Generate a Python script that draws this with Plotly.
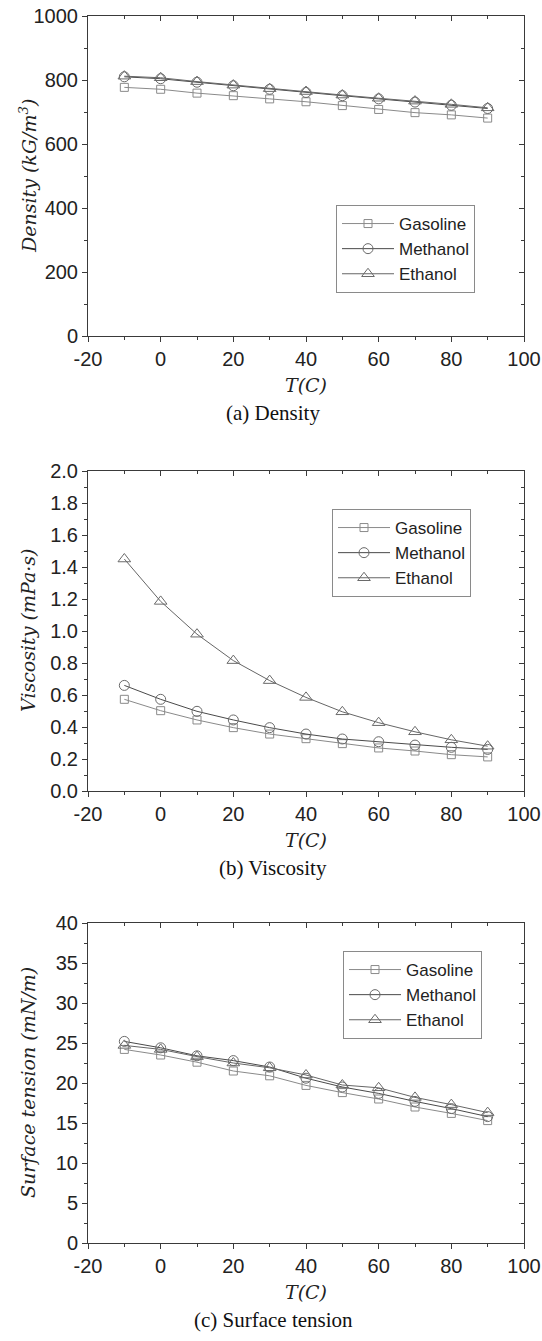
import plotly.graph_objects as go

# ---------------- data ----------------
temperature = [-10, 0, 10, 20, 30, 40, 50, 60, 70, 80, 90]
series_names = ["Gasoline", "Methanol", "Ethanol"]

density_gasoline = [777, 771, 759, 751, 741, 732, 720, 708, 698, 691, 681]
density_methanol = [810, 804, 793, 782, 771, 761, 751, 741, 731, 721, 711]
density_ethanol = [812, 807, 795, 784, 773, 764, 753, 743, 734, 724, 713]

viscosity_gasoline = [0.573, 0.502, 0.444, 0.396, 0.356, 0.327, 0.296, 0.269, 0.250, 0.227, 0.213]
viscosity_methanol = [0.660, 0.573, 0.498, 0.444, 0.396, 0.356, 0.325, 0.308, 0.287, 0.273, 0.260]
viscosity_ethanol = [1.450, 1.185, 0.980, 0.815, 0.690, 0.585, 0.495, 0.427, 0.370, 0.320, 0.280]

tension_gasoline = [24.2, 23.5, 22.6, 21.5, 20.9, 19.7, 18.8, 18.0, 17.0, 16.2, 15.3]
tension_methanol = [25.2, 24.4, 23.4, 22.8, 22.0, 20.6, 19.5, 18.7, 17.7, 16.8, 15.8]
tension_ethanol = [24.7, 24.2, 23.3, 22.5, 21.9, 21.0, 19.75, 19.4, 18.2, 17.3, 16.3]

x_range = [-20, 100]
x_tickvals = [-20, 0, 20, 40, 60, 80, 100]
x_ticktext = ["-20", "0", "20", "40", "60", "80", "100"]
y_ranges = [[0, 1000], [0, 2.0], [0, 40]]
y_dticks = [200, 0.2, 5]
y_titles = ["Density (kG/m<sup>3</sup>)", "Viscosity (mPa·s)", "Surface tension (mN/m)"]
captions = ["(a) Density", "(b) Viscosity", "(c) Surface tension"]
x_title = "T(C)"

# ---------------- layout constants (pixels) ----------------
W, H = 542, 1341
PLOT_L, PLOT_R = 88, 524
panel_tops = [16, 471, 923]
PANEL_H = 320
legend_pos = [(336, 205), (332, 509), (343, 951)]  # left, top

def px_x(x):
    return x / W

def px_y(y):
    return 1 - y / H

series_styles = {
    "Gasoline": dict(symbol="square-open", size=8, color="#8a8a8a", lc="#8a8a8a"),
    "Methanol": dict(symbol="circle-open", size=10, color="#6a6a6a", lc="#4a4a4a"),
    "Ethanol": dict(symbol="triangle-up-open", size=11, color="#6a6a6a", lc="#666666"),
}

panels = [
    [density_gasoline, density_methanol, density_ethanol],
    [viscosity_gasoline, viscosity_methanol, viscosity_ethanol],
    [tension_gasoline, tension_methanol, tension_ethanol],
]

fig = go.Figure()
tick_font = dict(family="Liberation Sans, Arial, sans-serif", size=20, color="#222")
title_font = dict(family="DejaVu Serif, serif", size=19, color="#222", style="italic")
axis_color = "#3a3a3a"
annotations = []
layout_axes = {}

for i, (vals, top) in enumerate(zip(panels, panel_tops)):
    n = i + 1
    xa = "x" if n == 1 else f"x{n}"
    ya = "y" if n == 1 else f"y{n}"
    legend_name = "legend" if n == 1 else f"legend{n}"
    for name, v in zip(series_names, vals):
        st = series_styles[name]
        fig.add_trace(go.Scatter(
            x=temperature, y=v, name=name, mode="lines+markers",
            xaxis=xa, yaxis=ya, legend=legend_name,
            line=dict(color=st["lc"], width=1),
            marker=dict(symbol=st["symbol"], size=st["size"],
                        color=st["color"], line=dict(width=1, color=st["color"])),
        ))
    # overlay axes for inside ticks on top/right
    ox = f"x{n + 3}"
    oy = f"y{n + 3}"
    fig.add_trace(go.Scatter(x=[], y=[], xaxis=ox, yaxis=ya, showlegend=False, hoverinfo="skip"))
    fig.add_trace(go.Scatter(x=[], y=[], xaxis=xa, yaxis=oy, showlegend=False, hoverinfo="skip"))

    bottom = top + PANEL_H
    ydom = [px_y(bottom), px_y(top)]
    xdom = [px_x(PLOT_L), px_x(PLOT_R)]
    xkey = "xaxis" if n == 1 else f"xaxis{n}"
    ykey = "yaxis" if n == 1 else f"yaxis{n}"
    layout_axes[xkey] = dict(
        domain=xdom, anchor=ya, range=x_range, tickmode="array",
        tickvals=x_tickvals, ticktext=x_ticktext,
        showline=True, linecolor=axis_color, linewidth=1, mirror=True,
        ticks="outside", ticklen=5, tickcolor=axis_color, tickwidth=1,
        minor=dict(dtick=10, tick0=-20, ticks="outside", ticklen=3, tickcolor=axis_color),
        showgrid=False, zeroline=False, tickfont=tick_font, fixedrange=True,
        automargin=False, ticklabeloverflow="allow",
    )
    layout_axes[ykey] = dict(
        domain=ydom, anchor=xa, range=y_ranges[i], tick0=0, dtick=y_dticks[i],
        showline=True, linecolor=axis_color, linewidth=1, mirror=True,
        ticks="outside", ticklen=5, tickcolor=axis_color, tickwidth=1,
        minor=dict(dtick=y_dticks[i] / 2, tick0=0, ticks="outside", ticklen=3, tickcolor=axis_color),
        showgrid=False, zeroline=False, tickfont=tick_font, fixedrange=True,
        tickformat=".1f" if i == 1 else None, automargin=False, ticklabeloverflow="allow",
    )
    layout_axes[f"xaxis{n + 3}"] = dict(
        overlaying=xa, side="top", anchor=ya, range=x_range, tick0=-20, dtick=20,
        showline=False, ticks="inside", ticklen=5, tickcolor=axis_color,
        minor=dict(dtick=10, tick0=-20, ticks="inside", ticklen=3, tickcolor=axis_color),
        showticklabels=False, showgrid=False, zeroline=False, fixedrange=True, automargin=False,
    )
    layout_axes[f"yaxis{n + 3}"] = dict(
        overlaying=ya, side="right", anchor=xa, range=y_ranges[i], tick0=0, dtick=y_dticks[i],
        showline=False, ticks="inside", ticklen=5, tickcolor=axis_color,
        minor=dict(dtick=y_dticks[i] / 2, tick0=0, ticks="inside", ticklen=3, tickcolor=axis_color),
        showticklabels=False, showgrid=False, zeroline=False, fixedrange=True, automargin=False,
    )
    lx, ly = legend_pos[i]
    layout_axes[legend_name] = dict(
        x=px_x(lx), y=px_y(ly), xanchor="left", yanchor="top",
        bordercolor="#8a8a8a", borderwidth=1, bgcolor="rgba(255,255,255,0)",
        font=dict(family="Liberation Sans, Arial, sans-serif", size=17, color="#222"),
        itemwidth=52, tracegroupgap=0, entrywidth=94, entrywidthmode="pixels",
    )
    # y title
    annotations.append(dict(
        text=y_titles[i], xref="paper", yref="paper", x=px_x(28), y=px_y(top + PANEL_H / 2),
        textangle=-90, showarrow=False, xanchor="center", yanchor="middle",
        font=title_font,
    ))
    # x title
    annotations.append(dict(
        text=x_title, xref="paper", yref="paper", x=px_x((PLOT_L + PLOT_R) / 2), y=px_y(bottom + 49),
        showarrow=False, xanchor="center", yanchor="middle",
        font=title_font,
    ))
    # caption
    annotations.append(dict(
        text=captions[i], xref="paper", yref="paper", x=px_x(273), y=px_y(bottom + 77),
        showarrow=False, xanchor="center", yanchor="middle",
        font=dict(family="Liberation Serif, Times New Roman, serif", size=21, color="#111"),
    ))

fig.update_layout(
    width=W, height=H, margin=dict(l=0, r=0, t=0, b=0),
    paper_bgcolor="white", plot_bgcolor="white",
    annotations=annotations, **layout_axes,
)

fig.write_html("out.html", config={"displayModeBar": False},
               post_script="document.body.style.margin='0';")
